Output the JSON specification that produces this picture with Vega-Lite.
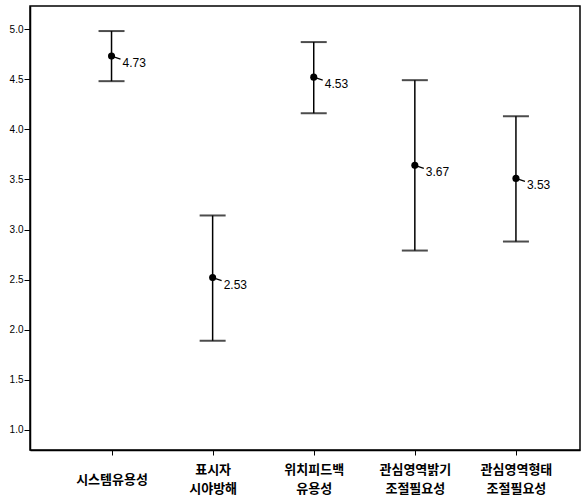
{
  "$schema": "https://vega.github.io/schema/vega-lite/v6.json",
  "autosize": {"type": "fit", "contains": "padding"},
  "width": 584,
  "height": 503,
  "padding": {"left": 9, "top": 6, "right": 4, "bottom": 8},
  "background": "white",
  "config": {
    "view": {"stroke": "black", "strokeWidth": 1.5},
    "axis": {"domainColor": "black", "tickColor": "black", "labelColor": "black", "grid": false}
  },
  "data": {
    "values": [
      {"item": "시스템유용성", "mean": 4.73, "lo": 4.48, "hi": 4.98, "label": "4.73"},
      {"item": "표시자|시야방해", "mean": 2.52, "lo": 1.89, "hi": 3.14, "label": "2.53"},
      {"item": "위치피드백|유용성", "mean": 4.52, "lo": 4.16, "hi": 4.87, "label": "4.53"},
      {"item": "관심영역밝기|조절필요성", "mean": 3.64, "lo": 2.79, "hi": 4.49, "label": "3.67"},
      {"item": "관심영역형태|조절필요성", "mean": 3.51, "lo": 2.88, "hi": 4.13, "label": "3.53"}
    ]
  },
  "encoding": {
    "x": {
      "field": "item", "type": "nominal", "sort": null,
      "scale": {"type": "point", "padding": 0.72, "align": 0.56},
      "axis": {
        "title": null, "labelAngle": 0, "labelExpr": "split(datum.label, '|')",
        "labelFont": "Noto Sans CJK KR", "labelFontWeight": "bold", "labelFontSize": 13,
        "labelLineHeight": 19, "labelBaseline": "middle",
        "labelPadding": {"condition": {"test": "indexof(datum.label, '|') < 0", "value": 24}, "value": 14},
        "tickSize": 5, "domainWidth": 1.5
      }
    }
  },
  "layer": [
    {
      "mark": {"type": "rule", "color": "black", "strokeWidth": 1.5},
      "encoding": {
        "y": {
          "field": "lo", "type": "quantitative",
          "scale": {"domain": [0.8, 5.23], "nice": false, "zero": false},
          "axis": {
            "title": null, "values": [1, 1.5, 2, 2.5, 3, 3.5, 4, 4.5, 5], "format": ".1f",
            "labelFont": "Liberation Sans", "labelFontSize": 10, "tickSize": 6, "labelPadding": 1,
            "domainWidth": 1.5
          }
        },
        "y2": {"field": "hi"}
      }
    },
    {
      "mark": {"type": "tick", "color": "black", "size": 26, "thickness": 2},
      "encoding": {"y": {"field": "lo", "type": "quantitative"}}
    },
    {
      "mark": {"type": "tick", "color": "black", "size": 26, "thickness": 2},
      "encoding": {"y": {"field": "hi", "type": "quantitative"}}
    },
    {
      "mark": {"type": "rule", "color": "black", "strokeWidth": 1.2, "x2Offset": 9, "y2Offset": 3},
      "encoding": {
        "y": {"field": "mean", "type": "quantitative"},
        "x2": {"field": "item"},
        "y2": {"field": "mean"}
      }
    },
    {
      "mark": {"type": "point", "filled": true, "color": "black", "size": 50, "opacity": 1},
      "encoding": {"y": {"field": "mean", "type": "quantitative"}}
    },
    {
      "mark": {"type": "text", "align": "left", "baseline": "middle", "dx": 11, "dy": 7, "font": "Liberation Sans", "fontSize": 12, "color": "black"},
      "encoding": {
        "y": {"field": "mean", "type": "quantitative"},
        "text": {"field": "label"}
      }
    }
  ]
}
